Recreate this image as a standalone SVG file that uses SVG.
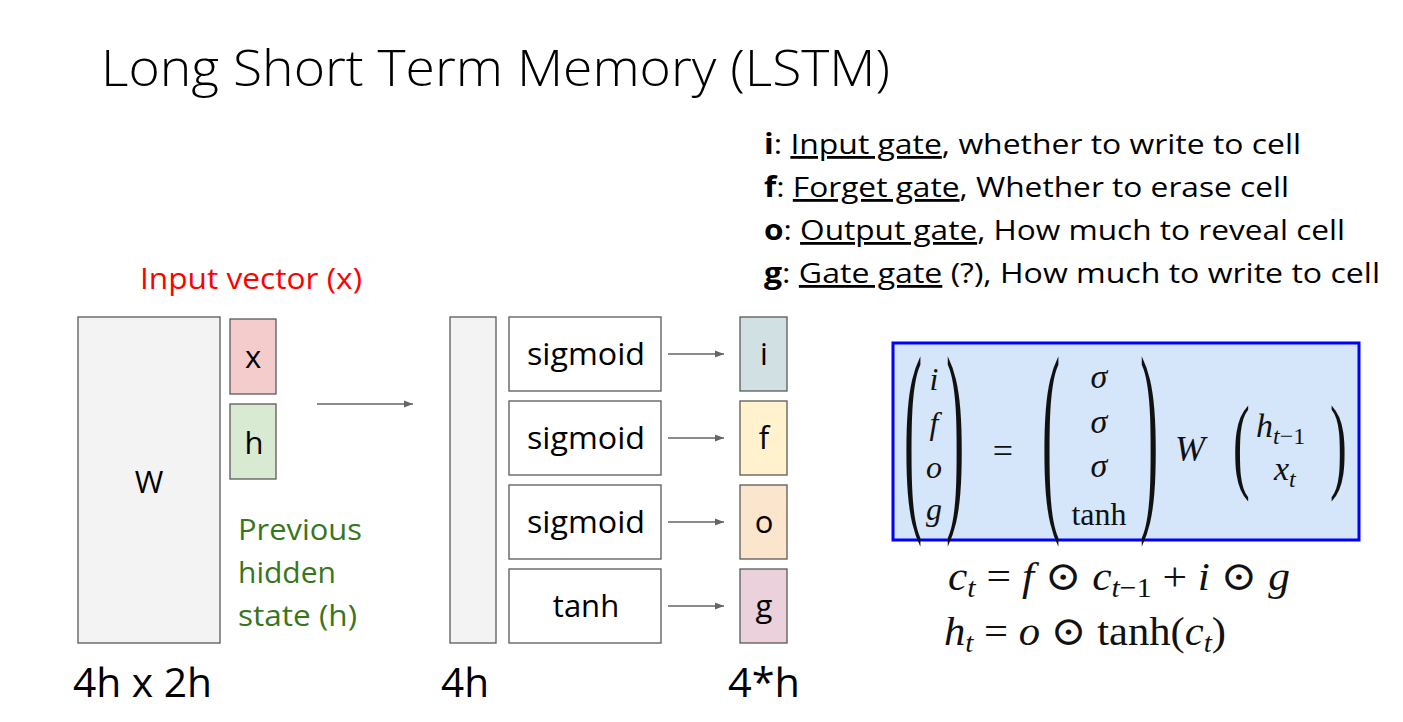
<svg xmlns="http://www.w3.org/2000/svg" width="1403" height="722" viewBox="0 0 1403 722">
<defs>
<marker id="ah" viewBox="0 0 10 10" refX="10" refY="5" markerWidth="9" markerHeight="9" markerUnits="userSpaceOnUse" orient="auto">
<path d="M0,1 L10,5 L0,9 z" fill="#666"/>
</marker>
</defs>
<style>
.t{font-family:"Open Sans","Liberation Sans",sans-serif;fill:#000}
.box{stroke:#595959;stroke-width:1.3}
.lbl{font-size:31px;text-anchor:middle}
.dim{font-size:40px}
.conn{stroke:#666;stroke-width:1.3;fill:none;marker-end:url(#ah)}
.gate{font-size:28px}
.m{font-family:"Liberation Serif","DejaVu Serif",serif;fill:#111}
.mi{font-style:italic}
</style>
<rect width="1403" height="722" fill="#fff"/>
<text class="t" x="101" y="86" font-size="50" textLength="789" lengthAdjust="spacingAndGlyphs" font-weight="300">Long Short Term Memory (LSTM)</text>

<g id="legend" class="t gate">
<text x="764" y="154" textLength="537" lengthAdjust="spacingAndGlyphs"><tspan font-weight="bold">i</tspan>: <tspan text-decoration="underline">Input gate</tspan>, whether to write to cell</text>
<text x="764" y="197" textLength="525" lengthAdjust="spacingAndGlyphs"><tspan font-weight="bold">f</tspan>: <tspan text-decoration="underline">Forget gate</tspan>, Whether to erase cell</text>
<text x="764" y="240" textLength="581" lengthAdjust="spacingAndGlyphs"><tspan font-weight="bold">o</tspan>: <tspan text-decoration="underline">Output gate</tspan>, How much to reveal cell</text>
<text x="764" y="283" textLength="616" lengthAdjust="spacingAndGlyphs"><tspan font-weight="bold">g</tspan>: <tspan text-decoration="underline">Gate gate</tspan> (?), How much to write to cell</text>
</g>

<g id="W">
<rect class="box" x="78" y="317" width="142" height="326" fill="#f3f3f3"/>
<text class="t lbl" x="149" y="493">W</text>
</g>
<g id="x">
<rect class="box" x="230" y="319" width="46" height="75" fill="#f4cccc"/>
<text class="t lbl" x="253" y="368">x</text>
</g>
<g id="h">
<rect class="box" x="230" y="404" width="46" height="75" fill="#d9ead3"/>
<text class="t lbl" x="254" y="454">h</text>
</g>
<text class="t" x="140" y="289" font-size="29" style="fill:#ff0000" textLength="222" lengthAdjust="spacingAndGlyphs">Input vector (x)</text>
<g class="t" font-size="30" style="fill:#38761d">
<text x="238" y="540" textLength="124" lengthAdjust="spacingAndGlyphs">Previous</text>
<text x="238" y="583">hidden</text>
<text x="238" y="626" textLength="119" lengthAdjust="spacingAndGlyphs">state (h)</text>
</g>
<text class="t dim" x="73" y="697" textLength="139" lengthAdjust="spacingAndGlyphs">4h x 2h</text>

<g id="v4h">
<rect class="box" x="450" y="317" width="46" height="326" fill="#f3f3f3"/>
</g>
<text class="t dim" x="441" y="697" textLength="48" lengthAdjust="spacingAndGlyphs">4h</text>

<g id="sig1"><rect class="box" x="509" y="317" width="152" height="74" fill="#fff"/><text class="t lbl" x="586" y="365" textLength="118" lengthAdjust="spacingAndGlyphs">sigmoid</text></g>
<g id="sig2"><rect class="box" x="509" y="401" width="152" height="74" fill="#fff"/><text class="t lbl" x="586" y="449" textLength="118" lengthAdjust="spacingAndGlyphs">sigmoid</text></g>
<g id="sig3"><rect class="box" x="509" y="485" width="152" height="74" fill="#fff"/><text class="t lbl" x="586" y="533" textLength="118" lengthAdjust="spacingAndGlyphs">sigmoid</text></g>
<g id="tanh"><rect class="box" x="509" y="569" width="152" height="74" fill="#fff"/><text class="t lbl" x="586" y="617">tanh</text></g>

<g id="gi"><rect class="box" x="740" y="317" width="47" height="74" fill="#d0e0e3"/><text class="t lbl" x="764" y="365">i</text></g>
<g id="gf"><rect class="box" x="740" y="401" width="47" height="74" fill="#fff2cc"/><text class="t lbl" x="764" y="449">f</text></g>
<g id="go"><rect class="box" x="740" y="485" width="47" height="74" fill="#fce5cd"/><text class="t lbl" x="764" y="533">o</text></g>
<g id="gg"><rect class="box" x="740" y="569" width="47" height="74" fill="#ead1dc"/><text class="t lbl" x="764" y="617">g</text></g>
<text class="t dim" x="728" y="697" textLength="72" lengthAdjust="spacingAndGlyphs">4*h</text>

<g id="connectors">
<line class="conn" x1="317" y1="404" x2="413" y2="404"/>
<line class="conn" x1="668" y1="354" x2="724" y2="354"/>
<line class="conn" x1="668" y1="438" x2="724" y2="438"/>
<line class="conn" x1="668" y1="522" x2="724" y2="522"/>
<line class="conn" x1="668" y1="606" x2="724" y2="606"/>
</g>

<g id="equation">
<rect x="893" y="343" width="466" height="197" fill="#d5e6fb" stroke="#0000ff" stroke-width="3"/>
<text class="m" font-size="42" transform="translate(904,502) scale(1.3,5)">(</text>
<text class="m" font-size="42" transform="translate(946,502) scale(1.3,5)">)</text>
<g class="m mi" font-size="32" text-anchor="middle">
<text x="934" y="390">i</text>
<text x="934" y="434">f</text>
<text x="934" y="478">o</text>
<text x="934" y="520">g</text>
</g>
<text class="m" font-size="36" x="1003" y="463" text-anchor="middle">=</text>
<text class="m" font-size="42" transform="translate(1042,502) scale(1.3,5)">(</text>
<text class="m" font-size="42" transform="translate(1140,502) scale(1.3,5)">)</text>
<g class="m mi" font-size="34" text-anchor="middle">
<text x="1099" y="388">σ</text>
<text x="1099" y="433">σ</text>
<text x="1099" y="477">σ</text>
</g>
<text class="m" font-size="32" x="1099" y="525" text-anchor="middle">tanh</text>
<text class="m mi" font-size="36" x="1190" y="461" text-anchor="middle">W</text>
<text class="m" font-size="42" transform="translate(1233,479) scale(1.2,2.5)">(</text>
<text class="m" font-size="42" transform="translate(1330,479) scale(1.2,2.5)">)</text>
<text class="m mi" font-size="34" x="1256" y="437">h<tspan font-size="24" dy="7">t</tspan><tspan font-size="24" font-style="normal">−1</tspan></text>
<text class="m mi" font-size="34" x="1274" y="480">x<tspan font-size="24" dy="7">t</tspan></text>
</g>

<g id="formulas" class="m" font-size="41">
<text x="948" y="590" textLength="342" lengthAdjust="spacingAndGlyphs"><tspan font-style="italic">c</tspan><tspan font-style="italic" font-size="28" dy="7">t</tspan><tspan dy="-7"> = </tspan><tspan font-style="italic">f</tspan> ⊙ <tspan font-style="italic">c</tspan><tspan font-style="italic" font-size="28" dy="7">t</tspan><tspan font-size="28">−1</tspan><tspan dy="-7"> + </tspan><tspan font-style="italic">i</tspan> ⊙ <tspan font-style="italic">g</tspan></text>
<text x="944" y="645" textLength="282" lengthAdjust="spacingAndGlyphs"><tspan font-style="italic">h</tspan><tspan font-style="italic" font-size="28" dy="7">t</tspan><tspan dy="-7"> = </tspan><tspan font-style="italic">o</tspan> ⊙ tanh(<tspan font-style="italic">c</tspan><tspan font-style="italic" font-size="28" dy="7">t</tspan><tspan dy="-7">)</tspan></text>
</g>
</svg>
